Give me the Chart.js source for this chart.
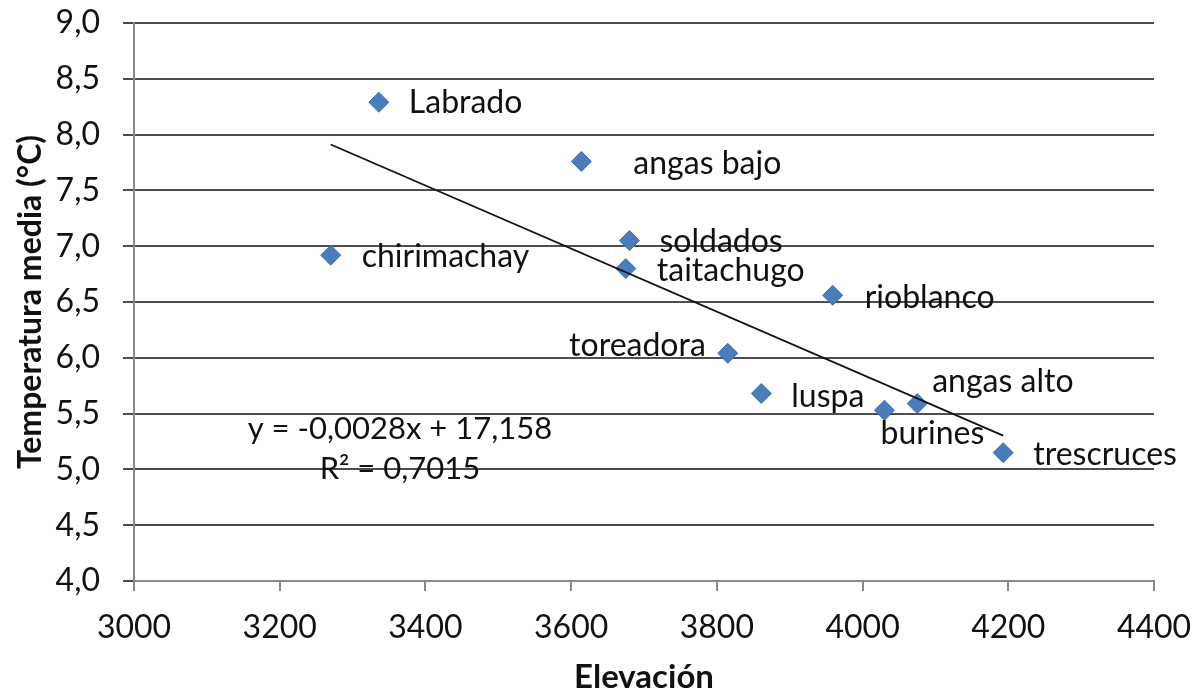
<!DOCTYPE html>
<html>
<head>
<meta charset="utf-8">
<title>Temperatura media vs Elevación</title>
<script src="https://cdn.jsdelivr.net/npm/chart.js@4/dist/chart.umd.min.js"></script>
<style>
  html, body { margin: 0; padding: 0; background: #ffffff; }
  #wrap { width: 1200px; height: 698px; }
</style>
</head>
<body>
<div id="wrap"><canvas id="chart" width="1200" height="698"></canvas></div>
<script>
// Stations and their measurements
const stations = ['Labrado', 'angas bajo', 'chirimachay', 'soldados', 'taitachugo',
  'rioblanco', 'toreadora', 'luspa', 'burines', 'angas alto', 'trescruces'];
const elevation = [3336, 3614, 3270, 3680, 3675, 3959, 3815, 3861, 4030, 4075, 4193];
const meanTemp = [8.29, 7.76, 6.92, 7.05, 6.80, 6.56, 6.04, 5.68, 5.53, 5.59, 5.15];

// Axis ranges and tick steps
const xRange = [3000, 4400];
const xStep = 200;
const yRange = [4.0, 9.0];
const yStep = 0.5;

// Trendline annotation text
const equationLines = ['y = -0,0028x + 17,158', 'R\u00B2 = 0,7015'];

// Label placement for each station name: [dx, dy, textAlign]
const labelPlacement = [
  [30, 0, 'left'], [52, 2, 'left'], [31, 2, 'left'], [30, 1, 'left'],
  [31, 2, 'left'], [32, 2, 'left'], [-22, -8, 'right'], [30, 3, 'left'],
  [48, 23, 'center'], [15, -22, 'left'], [30, 2, 'left']
];
// Where the equation block sits, in data units
const equationAnchor = { x: 3365, y: [5.36, 5.0] };

// Least-squares linear fit of temperature on elevation
function linearFit(xs, ys) {
  const n = xs.length;
  const mx = xs.reduce((a, b) => a + b, 0) / n;
  const my = ys.reduce((a, b) => a + b, 0) / n;
  let sxy = 0, sxx = 0;
  for (let i = 0; i < n; i++) {
    sxy += (xs[i] - mx) * (ys[i] - my);
    sxx += (xs[i] - mx) * (xs[i] - mx);
  }
  const slope = sxy / sxx;
  return { slope, intercept: my - slope * mx };
}
const fit = linearFit(elevation, meanTemp);
const xMin = Math.min(...elevation);
const xMax = Math.max(...elevation);
const trendPoints = [
  { x: xMin, y: fit.intercept + fit.slope * xMin },
  { x: xMax, y: fit.intercept + fit.slope * xMax }
];

const FONT = 'Lato';
const TEXT = '#111111';
Chart.defaults.font.family = FONT;
Chart.defaults.color = TEXT;

const pointLabels = {
  id: 'pointLabels',
  afterDatasetsDraw(chart) {
    const ctx = chart.ctx;
    const meta = chart.getDatasetMeta(1);
    ctx.save();
    ctx.font = '32px ' + FONT;
    ctx.fillStyle = TEXT;
    ctx.textBaseline = 'middle';
    meta.data.forEach((pt, i) => {
      const [dx, dy, align] = labelPlacement[i];
      ctx.textAlign = align;
      ctx.fillText(stations[i], pt.x + dx, pt.y + dy);
    });
    // regression equation
    const xs = chart.scales.x, ys = chart.scales.y;
    ctx.font = '31px ' + FONT;
    ctx.textAlign = 'center';
    equationLines.forEach((t, k) => {
      ctx.fillText(t, xs.getPixelForValue(equationAnchor.x), ys.getPixelForValue(equationAnchor.y[k]));
    });
    ctx.restore();
  }
};

new Chart(document.getElementById('chart'), {
  type: 'scatter',
  data: {
    datasets: [
      {
        label: 'Lineal',
        data: trendPoints,
        showLine: true,
        borderColor: '#111111',
        borderWidth: 1.8,
        pointRadius: 0,
        order: 0
      },
      {
        label: 'Temperatura media',
        data: elevation.map((e, i) => ({ x: e, y: meanTemp[i] })),
        pointStyle: 'rectRot',
        pointRadius: 10,
        pointHoverRadius: 10,
        backgroundColor: '#4a7ebb',
        borderColor: '#3d6ead',
        borderWidth: 1,
        order: 1
      }
    ]
  },
  options: {
    responsive: false,
    animation: false,
    events: [],
    layout: { padding: { top: 23, right: 46, bottom: 0, left: 0 } },
    plugins: {
      legend: { display: false },
      tooltip: { enabled: false }
    },
    scales: {
      x: {
        type: 'linear',
        min: xRange[0],
        max: xRange[1],
        afterFit(scale) {
          scale.height = 117;
          scale.paddingLeft = 0;
          scale.paddingRight = 0;
        },
        ticks: {
          stepSize: xStep,
          padding: 17,
          font: { size: 32 },
          color: TEXT,
          callback: v => String(v)
        },
        grid: {
          drawOnChartArea: false,
          drawTicks: true,
          tickLength: 10,
          color: '#8a8a8a',
          lineWidth: 2
        },
        border: { color: '#8a8a8a', width: 2 },
        title: {
          display: true,
          text: 'Elevación',
          font: { size: 33, weight: 'bold' },
          color: TEXT,
          padding: { top: 0, bottom: 1 }
        }
      },
      y: {
        type: 'linear',
        min: yRange[0],
        max: yRange[1],
        afterFit(scale) {
          scale.width = 134;
          scale.paddingTop = 0;
          scale.paddingBottom = 0;
        },
        ticks: {
          stepSize: yStep,
          padding: 23,
          font: { size: 32 },
          color: TEXT,
          callback: v => v.toFixed(1).replace('.', ',')
        },
        grid: {
          color: '#4d4d4d',
          lineWidth: 2,
          drawTicks: true,
          tickLength: 11
        },
        border: { color: '#8a8a8a', width: 2 },
        title: {
          display: true,
          text: 'Temperatura media (°C)',
          font: { size: 32, weight: 'bold' },
          color: TEXT,
          padding: { top: 11, bottom: 0 }
        }
      }
    }
  },
  plugins: [pointLabels]
});
</script>
</body>
</html>
